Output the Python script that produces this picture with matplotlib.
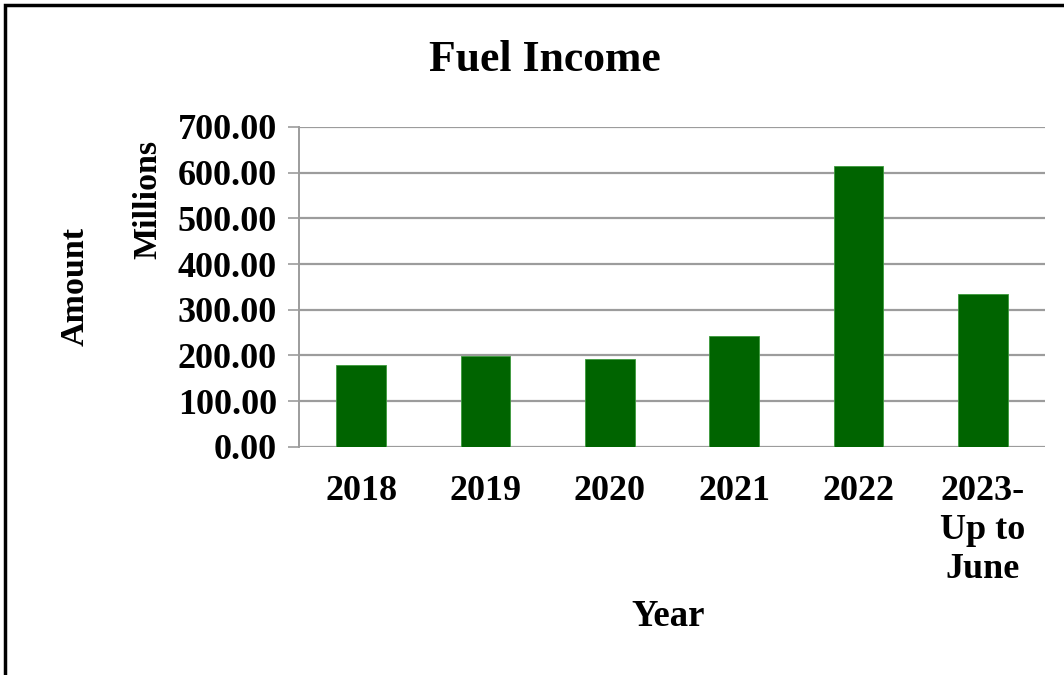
import matplotlib
matplotlib.use("Agg")
import matplotlib.pyplot as plt
from matplotlib.patches import Rectangle

years = ["2018", "2019", "2020", "2021", "2022", "2023-\nUp to\nJune"]
income = [178.6, 199.7, 193.2, 243.3, 613.6, 334.8]
yticks = [0, 100, 200, 300, 400, 500, 600, 700]

plt.rcParams['font.family'] = ['Liberation Serif', 'DejaVu Serif']
plt.rcParams['font.weight'] = 'bold'

fig = plt.figure(figsize=(10.64, 6.75), dpi=100)
ax = fig.add_axes([0.281, 0.338, 0.701, 0.474])

x = range(len(years))
ax.bar(x, income, width=0.4, color='#006400', edgecolor='#3c9a3c', linewidth=0.6, zorder=3)

ax.set_ylim(0, 700)
ax.set_xlim(-0.5, len(years) - 0.5)
ax.set_yticks(yticks)
ax.set_yticklabels([f"{v:.2f}" for v in yticks], fontsize=26, fontweight='bold')
ax.set_xticks(list(x))
ax.set_xticklabels(years, fontsize=26, fontweight='bold', linespacing=1.25)
ax.yaxis.grid(True, color='#9c9c9c', linewidth=1.6, zorder=0)
ax.tick_params(axis='y', length=8, width=1.2, color='#9c9c9c', pad=8)
ax.tick_params(axis='x', length=0, pad=20)

for s in ['top', 'right', 'bottom']:
    ax.spines[s].set_visible(False)
ax.spines['left'].set_color('#9c9c9c')
ax.spines['left'].set_linewidth(1.4)

fig.text(0.512, 0.911, "Fuel Income", fontsize=31.5, fontweight='bold', ha='center', va='center')
fig.text(0.628, 0.086, "Year", fontsize=26.5, fontweight='bold', ha='center', va='center')
fig.text(0.0705, 0.575, "Amount", fontsize=24.5, fontweight='bold', rotation=90, ha='center', va='center')
fig.text(0.139, 0.705, "Millions", fontsize=24.5, fontweight='bold', rotation=90, ha='center', va='center')

# outer frame (right/bottom edges fall outside the picture)
fig.patches.append(Rectangle((5 / 1064, -0.1), 1.2, 1.1 - 5 / 675,
                             transform=fig.transFigure, fill=False,
                             edgecolor='black', linewidth=2.5))

fig.savefig("out.png", dpi=100)
